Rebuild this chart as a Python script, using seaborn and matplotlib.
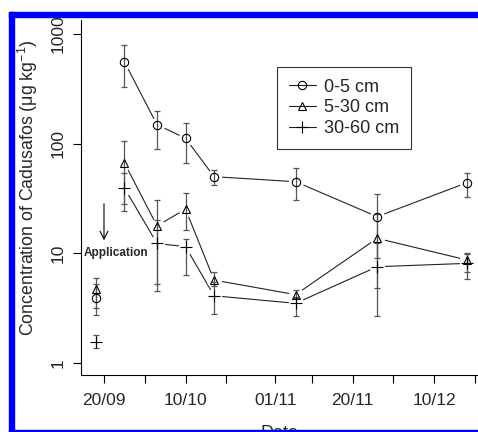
import matplotlib
matplotlib.use('Agg')
import matplotlib.pyplot as plt
import matplotlib.dates as mdates
from matplotlib.lines import Line2D
from matplotlib.patches import Rectangle
import numpy as np
import pandas as pd
import seaborn as sns

# sampling dates (first one is before application, not joined to the lines)
dates = ['2007-09-18', '2007-09-25', '2007-10-03', '2007-10-10',
         '2007-10-17', '2007-11-06', '2007-11-26', '2007-12-18']

# 0-5 cm
conc_0_5 = [3.9, 558, 149, 112, 50, 45, 21.6, 44]
lo_0_5 = [2.74, 326, 90, 66, 42, 30.6, 9.0, 32.8]
hi_0_5 = [5.25, 792, 199, 155, 58, 59.6, 34.5, 53.6]

# 5-30 cm
conc_5_30 = [4.7, 67, 17.8, 25.3, 5.7, 4.2, 13.7, 8.7]
lo_5_30 = [3.2, 28, 5.2, 16.3, 5.0, 3.9, 4.8, 6.8]
hi_5_30 = [6.0, 106, 30.6, 35.7, 6.8, 4.6, 22.6, 9.8]

# 30-60 cm
conc_30_60 = [1.56, 39.5, 12.3, 11.5, 4.1, 3.5, 7.55, 8.1]
lo_30_60 = [1.36, 24.3, 4.5, 6.3, 2.8, 2.7, 2.7, 5.8]
hi_30_60 = [1.8, 54, 20, 13.5, 5.5, 4.0, 12.4, 10.0]

labels = ['0-5 cm', '5-30 cm', '30-60 cm']
markers = ['o', '^', '+']

major_ticks = ['2007-09-20', '2007-10-10', '2007-11-01', '2007-11-20', '2007-12-10']
minor_ticks = ['2007-09-30', '2007-10-20', '2007-11-10', '2007-11-30', '2007-12-20']

sns.set_style('ticks')
plt.rcParams['font.family'] = ['Liberation Sans', 'DejaVu Sans']
plt.rcParams['mathtext.default'] = 'regular'

x = pd.to_datetime(dates)
series = [(conc_0_5, lo_0_5, hi_0_5), (conc_5_30, lo_5_30, hi_5_30),
          (conc_30_60, lo_30_60, hi_30_60)]

long = pd.concat([pd.DataFrame({'date': x[1:], 'conc': s[0][1:], 'depth': lab})
                  for s, lab in zip(series, labels)])

fig = plt.figure(figsize=(4.78, 4.32), dpi=100)
ax = fig.add_axes([81 / 478, 57 / 432, 397 / 478, 355 / 432])

sns.lineplot(data=long, x='date', y='conc', units='depth', estimator=None,
             color='#222222', lw=0.8, legend=False, ax=ax, zorder=1)

# white halos so lines stop short of the points (like R type="b")
for (c, lo, hi), m in zip(series, markers):
    ax.plot(x[1:], c[1:], ls='none', marker='o', ms=11, mfc='white', mec='none', zorder=2)

for (c, lo, hi), m in zip(series, markers):
    c = np.array(c)
    yerr = [c - np.array(lo), np.array(hi) - c]
    ax.errorbar(x, c, yerr=yerr, fmt='none', ecolor='#555555', elinewidth=0.9,
                capsize=2.5, capthick=0.9, zorder=3)
    ms = 8 if m == '+' else 6
    ax.plot(x, c, ls='none', marker=m, ms=ms, mfc='none', mec='black', mew=0.8, zorder=4)

ax.set_yscale('log')
ax.set_ylim(0.777, 1342)
ax.set_yticks([1, 10, 100, 1000])
ax.set_yticklabels(['1', '10', '100', '1000'])
ax.yaxis.set_minor_locator(matplotlib.ticker.NullLocator())

x0 = pd.Timestamp('2007-09-20')
ax.set_xlim(mdates.date2num(x0 - pd.Timedelta(days=5.64)),
            mdates.date2num(pd.Timestamp('2007-12-20') + pd.Timedelta(days=0.74)))
ax.set_xticks(mdates.date2num(pd.to_datetime(major_ticks)))
ax.set_xticks(mdates.date2num(pd.to_datetime(minor_ticks)), minor=True)
ax.xaxis.set_major_formatter(mdates.DateFormatter('%d/%m'))

ax.tick_params(axis='both', which='both', length=6, width=0.8, color='black', direction='out')
ax.tick_params(axis='x', which='both', pad=7, labelsize=12.5)
ax.tick_params(axis='y', pad=5, labelsize=12.5)
for t in ax.get_yticklabels():
    t.set_family(['Liberation Sans Narrow', 'Liberation Sans'])
    t.set_rotation(90)
    t.set_va('center')

sns.despine(ax=ax)
for sp in ['left', 'bottom']:
    ax.spines[sp].set_linewidth(0.8)
    ax.spines[sp].set_color('black')

ax.set_xlabel('Date', fontsize=13, labelpad=12)
ax.set_ylabel('Concentration of Cadusafos (μg kg$^{-1}$)', fontsize=12.8,
              family=['Liberation Sans Narrow', 'Liberation Sans'])
ax.yaxis.set_label_coords((40 - 81) / 397, (375 - 188) / 355)

# application arrow
ax.annotate('', xy=(x0, 12.4), xytext=(x0, 30),
            arrowprops=dict(arrowstyle='->', lw=0.8, color='black', mutation_scale=14))
ax.text(mdates.date2num(x0 + pd.Timedelta(days=3)), 10.1, 'Application',
        fontsize=8.5, fontweight='bold', ha='center', va='center')

handles = [Line2D([], [], color='#222222', lw=0.8, marker=m, ms=8 if m == '+' else 6,
                  mfc='none', mec='black', mew=0.8) for m in markers]
leg = ax.legend(handles, labels, loc='upper left', bbox_to_anchor=(277 / 478, 1 - 67 / 432),
                bbox_transform=fig.transFigure, fontsize=13, frameon=True, fancybox=False,
                handlelength=1.5, handletextpad=0.45, labelspacing=0.2, borderpad=0.65,
                borderaxespad=0)
leg.get_frame().set_edgecolor('black')
leg.get_frame().set_linewidth(0.8)

# blue frame of the original figure
blue = '#0000f0'
fig.add_artist(Rectangle((8.5 / 478, 1 - 17 / 432), 1, 5 / 432, transform=fig.transFigure,
                         color=blue, zorder=20))
fig.add_artist(Rectangle((8.5 / 478, 0), 5.5 / 478, 1 - 12 / 432, transform=fig.transFigure,
                         color=blue, zorder=20))
fig.add_artist(Rectangle((8.5 / 478, 0), 1, 2.5 / 432, transform=fig.transFigure,
                         color=blue, zorder=20))

fig.savefig('out.png', dpi=100)
